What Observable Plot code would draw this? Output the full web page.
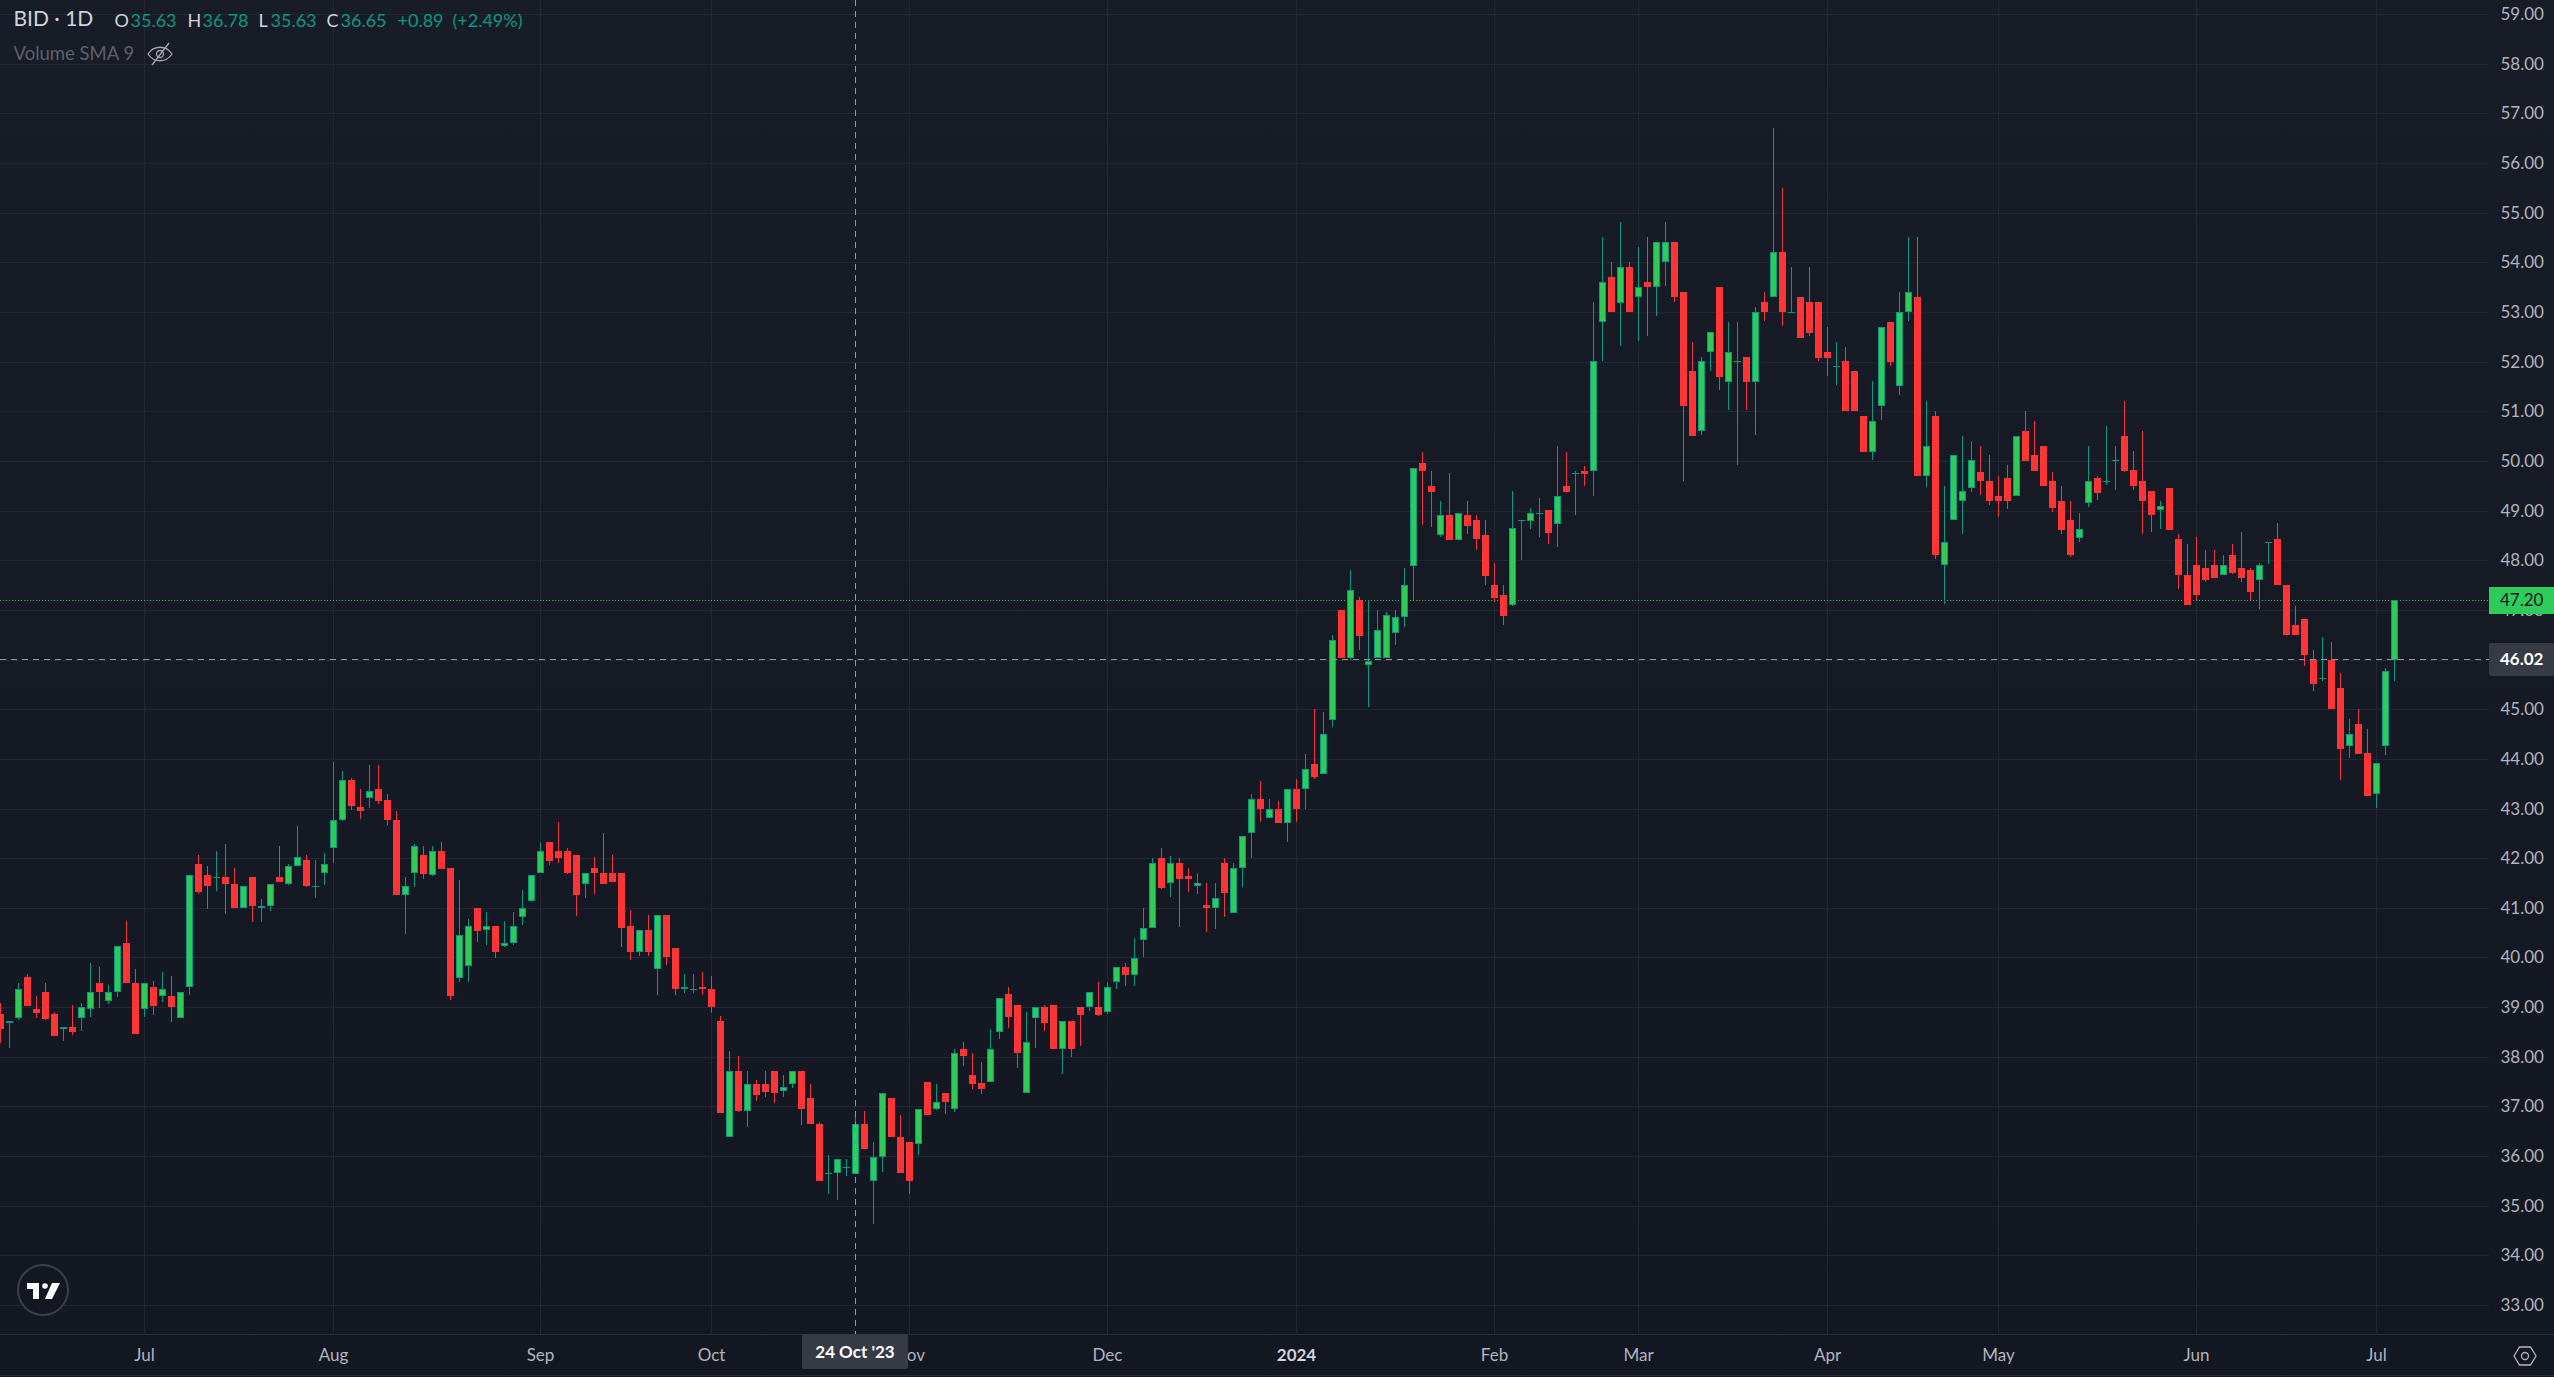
<!DOCTYPE html>
<html>
<head>
<meta charset="utf-8">
<title>BID 1D</title>
<script src="https://cdn.jsdelivr.net/npm/d3@7"></script>
<script src="https://cdn.jsdelivr.net/npm/@observablehq/plot@0.6"></script>
<style>
html,body{margin:0;padding:0;background:#131722;overflow:hidden}
svg{display:block}
</style>
</head>
<body>
<div id="chart"></div>
<script>
const open = [
38.87,38.68,38.78,39.60,38.97,39.31,38.87,38.56,38.60,38.78,
38.96,39.49,39.12,39.30,40.30,39.49,38.96,39.41,39.22,39.23,
38.78,39.41,41.89,41.66,41.62,41.62,41.48,40.99,41.62,40.99,
41.03,41.62,41.48,41.84,41.97,41.44,41.70,42.20,42.77,43.58,
43.03,43.21,43.40,43.17,42.77,41.26,41.70,42.07,41.66,42.15,
41.81,39.58,39.83,41.00,40.55,40.64,40.23,40.29,40.81,41.13,
41.70,42.33,42.15,42.15,42.07,41.48,41.81,41.70,41.70,41.70,
40.64,40.11,40.56,39.77,40.86,40.19,39.36,39.37,39.41,39.37,
38.72,36.38,37.72,36.91,37.46,37.46,37.72,37.31,37.45,37.72,
37.17,36.65,35.66,35.66,35.77,35.63,36.65,35.50,35.98,37.17,
36.39,36.29,36.25,37.50,36.95,37.28,36.95,38.16,37.64,37.47,
37.49,38.50,39.27,39.05,37.27,38.78,39.01,39.05,38.16,38.72,
39.01,39.00,39.01,38.90,39.50,39.81,39.64,40.35,40.59,42.01,
41.50,41.91,41.64,41.44,41.06,40.99,41.91,40.89,41.80,42.50,
43.19,42.81,43.00,42.70,43.40,43.39,43.90,43.69,44.79,46.99,
46.04,47.19,45.90,46.04,46.04,46.54,46.85,47.89,49.95,49.50,
48.50,48.91,48.40,48.91,48.81,48.50,47.50,47.30,47.09,48.81,
48.80,48.95,49.01,48.74,49.49,49.75,49.79,49.79,52.79,53.70,
53.19,53.91,53.30,53.60,53.50,54.00,54.41,53.40,51.81,50.60,
52.19,53.50,51.60,52.01,52.09,51.60,53.20,53.30,54.21,53.00,
53.30,53.20,53.20,52.19,51.91,52.01,51.81,50.91,50.19,51.10,
52.80,51.50,52.99,53.30,49.70,50.91,47.91,48.82,49.19,49.46,
49.77,49.60,49.30,49.66,49.30,50.61,50.11,50.31,49.60,49.20,
48.82,48.45,49.15,49.66,49.60,50.01,50.51,49.81,49.60,49.40,
49.01,49.46,48.42,47.71,47.91,47.85,47.91,47.70,48.11,47.85,
47.81,47.61,48.36,48.42,47.51,46.70,46.81,46.00,45.62,46.00,
45.42,44.26,44.71,44.11,43.30,44.26,46.00];
const high = [
39.09,38.72,39.49,39.67,39.23,39.49,38.91,38.60,39.05,39.09,
39.89,39.81,39.45,40.23,40.74,39.77,39.49,39.53,39.71,39.63,
39.31,41.66,42.07,41.85,42.15,42.29,41.81,41.44,41.62,41.18,
41.48,42.25,41.89,42.65,42.07,41.97,42.11,43.94,43.76,43.62,
43.40,43.88,43.88,43.30,42.95,41.62,42.29,42.25,42.25,42.33,
41.81,41.56,40.78,41.00,40.92,40.64,40.74,40.92,41.36,41.66,
42.33,42.33,42.73,42.21,42.07,41.70,42.03,42.51,42.07,41.70,
40.96,40.56,40.86,40.86,40.86,40.19,39.67,39.67,39.71,39.63,
38.83,38.12,38.02,37.72,37.54,37.72,37.72,37.64,37.72,37.72,
37.46,36.69,36.03,35.95,35.95,36.78,36.91,36.29,37.28,37.17,
36.83,36.29,36.95,37.50,37.46,37.28,38.16,38.30,38.08,37.90,
38.56,39.19,39.41,39.05,38.91,39.01,39.05,39.05,38.72,38.72,
39.01,39.31,39.51,39.51,39.81,39.89,40.40,41.00,42.01,42.21,
42.05,42.01,41.81,41.70,41.50,41.50,42.01,41.91,42.45,43.30,
43.56,43.19,43.15,43.40,43.60,44.10,45.01,44.95,46.49,46.99,
47.80,47.25,47.19,46.99,46.95,46.99,47.84,49.85,50.19,49.79,
49.19,49.75,48.95,49.19,48.91,48.81,47.94,47.50,49.39,48.81,
49.05,49.25,49.01,50.30,50.19,49.79,49.89,53.20,54.51,54.01,
54.81,54.01,54.31,54.51,54.41,54.81,54.41,53.40,52.40,52.09,
52.60,53.50,52.80,52.80,52.09,53.10,53.40,56.70,55.50,53.91,
53.30,53.91,53.20,52.70,52.40,52.30,51.81,50.91,51.61,52.70,
52.80,53.40,54.51,54.51,51.21,51.01,49.50,50.11,50.51,50.41,
50.31,50.11,49.70,49.91,50.51,51.01,50.81,50.31,49.77,49.50,
49.20,48.96,50.31,49.70,50.71,50.31,51.21,50.21,50.61,49.40,
49.20,49.46,48.52,48.32,48.46,48.21,48.21,48.11,48.32,48.56,
47.85,47.95,48.36,48.76,47.51,47.07,46.81,46.20,46.46,46.36,
45.72,44.81,45.01,44.61,43.91,45.82,47.20];
const low = [
38.27,38.17,38.74,39.03,38.79,38.74,38.41,38.32,38.44,38.52,
38.80,38.98,39.06,39.20,39.48,38.45,38.80,38.84,39.10,38.70,
38.78,39.24,41.27,40.97,41.34,40.87,40.99,40.99,40.71,40.71,
40.93,41.51,41.46,41.84,41.41,41.19,41.46,41.90,42.74,42.96,
42.79,43.01,43.09,42.66,41.25,40.47,41.42,41.58,41.64,41.79,
39.14,39.50,39.50,40.31,40.25,39.99,40.21,40.25,40.65,41.11,
41.70,41.86,41.90,41.68,40.83,41.20,41.28,41.48,41.52,40.21,
39.95,40.03,40.03,39.24,39.85,39.24,39.28,39.28,39.24,38.88,
36.87,36.38,36.89,36.58,37.11,37.19,37.07,37.19,37.37,36.62,
36.64,35.50,35.23,35.11,35.60,35.63,36.15,34.63,35.68,36.38,
35.66,35.23,36.03,36.83,36.93,36.85,36.89,37.81,37.36,37.25,
37.49,38.36,38.58,37.77,37.27,38.17,38.52,38.15,37.65,37.99,
38.21,38.92,38.82,38.86,39.36,39.42,39.42,40.01,40.59,41.37,
41.21,40.61,41.32,41.28,40.51,40.57,40.81,40.89,41.42,42.01,
42.72,42.81,42.70,42.32,42.72,43.00,43.60,43.69,44.65,46.04,
46.00,46.20,45.05,46.04,46.04,46.30,46.66,47.19,48.72,48.66,
48.46,48.40,48.40,48.52,48.21,47.51,47.16,46.70,47.07,48.01,
48.62,48.46,48.32,48.26,49.38,48.92,49.50,49.30,52.02,52.99,
52.31,52.99,52.41,52.51,52.91,53.52,53.21,49.60,50.50,50.52,
51.82,51.42,51.02,49.91,51.02,50.52,52.81,53.30,52.71,53.00,
52.48,52.51,52.02,51.72,51.52,51.00,51.00,50.19,50.01,50.82,
51.92,51.32,52.81,49.69,49.47,48.03,47.12,48.82,48.53,49.38,
49.32,49.11,48.87,49.03,49.30,50.00,49.80,49.50,48.97,48.53,
48.07,48.37,49.07,49.21,49.52,49.42,49.78,49.42,48.53,48.57,
48.63,48.61,47.42,47.10,47.20,47.56,47.64,47.70,47.72,47.56,
47.20,47.02,47.93,47.50,46.50,46.50,45.87,45.37,45.57,45.01,
43.58,44.02,44.10,43.26,43.01,44.08,45.57];
const close = [
38.55,38.72,39.37,39.03,38.89,38.77,38.41,38.60,38.50,39.01,
39.31,39.30,39.31,40.23,39.48,38.45,39.49,39.03,39.37,39.00,
39.31,41.66,41.31,41.43,41.62,41.47,40.99,41.44,41.03,41.04,
41.48,41.51,41.85,42.03,41.43,41.44,41.89,42.77,43.58,43.06,
42.95,43.36,43.16,42.76,41.25,41.44,42.25,41.69,42.15,41.79,
39.22,40.46,40.63,40.54,40.63,40.10,40.30,40.64,41.00,41.66,
42.15,41.95,42.01,41.70,41.25,41.70,41.70,41.48,41.52,40.59,
40.11,40.56,40.11,40.86,40.01,39.36,39.41,39.37,39.36,39.00,
36.87,37.72,36.91,37.46,37.22,37.30,37.27,37.40,37.72,36.95,
36.64,35.50,35.66,35.95,35.77,36.65,36.15,35.99,37.28,36.38,
35.66,35.50,36.95,36.83,37.09,37.09,38.08,38.01,37.45,37.35,
38.16,39.19,38.81,38.07,38.30,39.01,38.68,38.15,38.72,38.15,
38.84,39.31,38.84,39.41,39.81,39.64,39.99,40.60,41.91,41.39,
41.91,41.59,41.59,41.50,40.99,41.20,41.29,41.81,42.45,43.19,
42.98,43.00,42.70,43.40,42.98,43.80,43.64,44.50,46.39,46.04,
47.40,46.48,45.98,46.59,46.89,46.85,47.50,49.85,49.79,49.38,
48.91,48.40,48.95,48.69,48.43,47.68,47.24,46.88,48.64,48.81,
48.95,48.95,48.54,49.29,49.38,49.75,49.74,52.01,53.60,52.99,
53.91,52.99,53.50,53.50,54.41,54.41,53.30,51.10,50.50,52.01,
52.60,51.70,52.19,52.01,51.60,53.00,52.99,54.21,52.99,53.00,
52.48,52.58,52.08,52.08,51.91,51.00,51.00,50.19,50.81,52.70,
52.00,53.00,53.40,49.69,50.31,48.11,48.36,50.11,49.40,50.01,
49.60,49.19,49.19,49.19,50.51,50.00,49.80,49.50,49.05,48.61,
48.11,48.62,49.60,49.36,49.60,50.01,49.80,49.49,49.19,48.91,
49.10,48.61,47.70,47.10,47.30,47.60,47.64,47.91,47.74,47.64,
47.36,47.91,48.36,47.50,46.50,46.50,46.09,45.51,45.62,45.01,
44.20,44.51,44.10,43.26,43.91,45.76,47.20];

const monthBars = [16, 37, 60, 79, 101, 123, 166, 182, 203, 222, 244, 264];
const monthNames = ["Jul", "Aug", "Sep", "Oct", "Nov", "Dec", "Feb", "Mar", "Apr", "May", "Jun", "Jul"];
const yearBar = 144;
const yearName = "2024";
const priceTicks = d3.range(33, 60);
const lastClose = 47.20;
const crossPrice = 46.02;
const crossBar = 95;
const crossDate = "24 Oct '23";

const FONT = "Lato, 'Open Sans', sans-serif";
const BG_TOP = "#181c27", BG_BOTTOM = "#131722";
const UP_FILL = "#2ecc57", UP_EDGE = "#089981", DOWN_FILL = "#ff3535", DOWN_WICK = "#f23645";
const GRID = "#232733", BORDER = "#2a2e39", AXIS_TEXT = "#b2b5be", TAG = "#363a45";

const bars = open.map((o, i) => ({i, open: o, high: high[i], low: low[i], close: close[i]}));
const ups = bars.filter(d => d.close > d.open);
const downs = bars.filter(d => d.close < d.open);
const flats = bars.filter(d => d.close === d.open);
const isUp = d => d.close >= d.open;

const txt = (text, dx, dy, fill, size = 18, weight = 400) =>
  Plot.text([text], {text: d => d, frameAnchor: "top-left", dx, dy, fill, fontSize: size, fontWeight: weight,
    fontFamily: FONT, textAnchor: "start", lineAnchor: "middle"});

const chrome = (index, scales, values, dim) => {
  const g = d3.create("svg:g");
  const bottom = dim.height - dim.marginBottom;
  g.append("line").attr("x1", 0).attr("x2", dim.width).attr("y1", bottom + .5).attr("y2", bottom + .5).attr("stroke", BORDER);
  g.append("line").attr("x1", 0).attr("x2", dim.width).attr("y1", dim.height - 1.5).attr("y2", dim.height - 1.5).attr("stroke", BORDER);
  // eye-off icon
  const eye = g.append("g").attr("transform", "translate(160,54)").attr("fill", "none").attr("stroke", "#a5a8b1").attr("stroke-width", 1.3);
  eye.append("path").attr("d", "M-12,0 C-6,-9 6,-9 12,0 C6,9 -6,9 -12,0 Z");
  eye.append("circle").attr("r", 3.5);
  eye.append("line").attr("x1", -8).attr("y1", 11).attr("x2", 9).attr("y2", -11);
  // logo
  const logo = g.append("g").attr("transform", `translate(43,${bottom - 44})`);
  logo.append("circle").attr("r", 25).attr("fill", BG_BOTTOM).attr("stroke", "#3a3e4a").attr("stroke-width", 2);
  logo.append("path").attr("fill", "#fff").attr("d", "M-16,-7 H-4 V9 H-10 V-1 H-16 Z M2,9 L9,-7 H17 L9,9 Z");
  logo.append("circle").attr("cx", 2).attr("cy", -4).attr("r", 2.8).attr("fill", "#fff");
  // settings hexagon
  const gear = g.append("g").attr("transform", `translate(2525,${bottom + 22})`).attr("fill", "none").attr("stroke", AXIS_TEXT).attr("stroke-width", 1.3);
  gear.append("path").attr("d", "M-11,0 L-5.5,-9 H5.5 L11,0 L5.5,9 H-5.5 Z");
  gear.append("circle").attr("r", 3.5);
  return g.node();
};

const tags = (index, scales, values, dim) => {
  const g = d3.create("svg:g").attr("font-family", FONT).attr("text-anchor", "start");
  const right = dim.width - dim.marginRight, bottom = dim.height - dim.marginBottom;
  const yClose = scales.y(lastClose), yCross = scales.y(crossPrice), xCross = scales.x(crossBar);
  g.append("rect").attr("x", right).attr("y", yClose - 13).attr("width", dim.marginRight).attr("height", 27).attr("fill", "#2fcb5a");
  g.append("text").attr("x", right + 11).attr("y", yClose + 6).attr("font-size", 17).attr("fill", "#131722").text(lastClose.toFixed(2));
  g.append("rect").attr("x", right).attr("y", yCross - 16).attr("width", dim.marginRight).attr("height", 33).attr("rx", 2).attr("fill", TAG);
  g.append("text").attr("x", right + 11).attr("y", yCross + 6).attr("font-size", 17).attr("font-weight", 700).attr("fill", "#fff").text(crossPrice.toFixed(2));
  g.append("rect").attr("x", xCross - 53).attr("y", bottom).attr("width", 106).attr("height", 35).attr("rx", 2).attr("fill", TAG);
  g.append("text").attr("x", xCross).attr("y", bottom + 24).attr("text-anchor", "middle").attr("font-size", 17).attr("font-weight", 700).attr("fill", "#fff").text(crossDate);
  return g.node();
};

const plot = Plot.plot({
  width: 2554,
  height: 1377,
  marginLeft: 0,
  marginTop: 0,
  marginRight: 65,
  marginBottom: 43,
  style: {background: `linear-gradient(${BG_TOP}, ${BG_BOTTOM})`, fontFamily: FONT, overflow: "hidden"},
  x: {domain: [0, 276.556], round: true},
  y: {domain: [32.416, 59.284], round: true},
  marks: [
    Plot.gridX([...monthBars, yearBar], {stroke: GRID, strokeOpacity: 1}),
    Plot.gridY(priceTicks, {stroke: GRID, strokeOpacity: 1}),
    Plot.ruleY([lastClose], {stroke: "#2fcc58", strokeDasharray: "1 2"}),
    Plot.ruleX(bars, {x: "i", y1: "low", y2: "high", stroke: d => isUp(d) ? UP_EDGE : DOWN_WICK}),
    Plot.rect(downs, {x1: d => d.i - 3 / 9, x2: d => d.i + 4 / 9, y1: "open", y2: "close", fill: DOWN_FILL, shapeRendering: "crispEdges"}),
    Plot.rect(ups, {x1: d => d.i - 3 / 9, x2: d => d.i + 4 / 9, y1: "open", y2: "close", fill: UP_FILL, stroke: UP_EDGE, inset: 0.5}),
    Plot.ruleY(flats, {y: "close", x1: d => d.i - 3 / 9, x2: d => d.i + 4 / 9, stroke: UP_EDGE}),
    Plot.ruleY([crossPrice], {stroke: "#9598a1", strokeDasharray: "6 5"}),
    Plot.ruleX([crossBar], {stroke: "#9598a1", strokeDasharray: "6 5"}),
    Plot.axisY(priceTicks.filter(p => p !== 46), {anchor: "right", label: null, tickSize: 0, tickPadding: 11, tickFormat: d => d.toFixed(2), fill: AXIS_TEXT, fontSize: 17, fontFamily: FONT}),
    Plot.axisX(monthBars, {anchor: "bottom", label: null, tickSize: 0, tickPadding: 14, tickFormat: d => monthNames[monthBars.indexOf(d)], fill: AXIS_TEXT, fontSize: 17, fontFamily: FONT}),
    Plot.axisX([yearBar], {anchor: "bottom", label: null, tickSize: 0, tickPadding: 14, tickFormat: () => yearName, fill: "#d1d4dc", fontWeight: 700, fontSize: 17, fontFamily: FONT}),
    txt("BID · 1D", 13, 19, "#d1d4dc", 21),
    txt("O", 114, 21, "#d1d4dc"), txt("35.63", 130, 21, UP_EDGE),
    txt("H", 187, 21, "#d1d4dc"), txt("36.78", 202, 21, UP_EDGE),
    txt("L", 258, 21, "#d1d4dc"), txt("35.63", 270, 21, UP_EDGE),
    txt("C", 326, 21, "#d1d4dc"), txt("36.65", 340, 21, UP_EDGE),
    txt("+0.89", 397, 21, UP_EDGE), txt("(+2.49%)", 452, 21, UP_EDGE),
    txt("Volume SMA 9", 13, 54, "#5d606b", 18.5),
    chrome,
    tags
  ]
});
document.getElementById("chart").appendChild(plot);
</script>
</body>
</html>
